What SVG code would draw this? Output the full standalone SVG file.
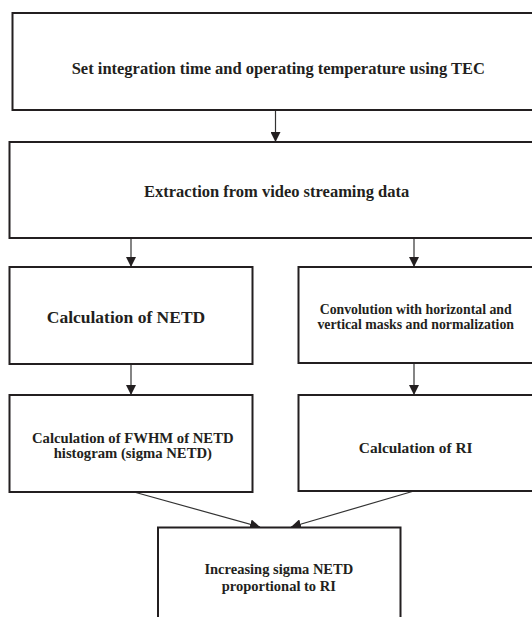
<svg xmlns="http://www.w3.org/2000/svg" width="532" height="617" viewBox="0 0 532 617">
<defs>
<style>
.box{fill:#fff;stroke:#231f20;stroke-width:2}
.t{font-family:"Liberation Serif","Times New Roman",serif;font-weight:bold;fill:#231f20;text-anchor:middle}
.big{font-size:16.5px}
.c{stroke:#333;stroke-width:1.2;fill:none;marker-end:url(#ah)}
</style>
<marker id="ah" viewBox="0 0 10 10" refX="10" refY="5" markerWidth="10" markerHeight="10" markerUnits="userSpaceOnUse" orient="auto">
<path d="M0,0 L10,5 L0,10 z" fill="#231f20"/>
</marker>
</defs>
<rect width="532" height="617" fill="#fff"/>
<g id="connectors">
<line class="c" x1="275.5" y1="110" x2="275.5" y2="142"/>
<line class="c" x1="131" y1="238" x2="131" y2="267"/>
<line class="c" x1="414" y1="238" x2="414" y2="267"/>
<line class="c" x1="131" y1="364" x2="131" y2="395"/>
<line class="c" x1="414" y1="363" x2="414" y2="395"/>
<line class="c" x1="134" y1="492" x2="260" y2="527"/>
<line class="c" x1="414" y1="491" x2="291" y2="527"/>
</g>
<g id="n1">
<rect class="box" x="12.5" y="13" width="540" height="97"/>
<text class="t big" x="278.3" y="74">Set integration time and operating temperature using TEC</text>
</g>
<g id="n2">
<rect class="box" x="9.5" y="142" width="540" height="96"/>
<text class="t big" x="276.6" y="196.5">Extraction from video streaming data</text>
</g>
<g id="n3">
<rect class="box" x="9.5" y="267" width="243" height="97"/>
<text class="t" font-size="17.5" x="126" y="323">Calculation of NETD</text>
</g>
<g id="n4">
<rect class="box" x="298.5" y="267" width="240" height="96"/>
<text class="t" font-size="13.8" x="415.7" y="314.3">Convolution with horizontal and</text>
<text class="t" font-size="13.8" x="415.7" y="329.2">vertical masks and normalization</text>
</g>
<g id="n5">
<rect class="box" x="9.5" y="395" width="243" height="97"/>
<text class="t" font-size="14.7" x="132.8" y="442.5">Calculation of FWHM of NETD</text>
<text class="t" font-size="14.7" x="132.8" y="457.8">histogram (sigma NETD)</text>
</g>
<g id="n6">
<rect class="box" x="298.5" y="395" width="240" height="96"/>
<text class="t" font-size="15.4" x="415.7" y="453">Calculation of RI</text>
</g>
<g id="n7">
<rect class="box" x="158" y="527.5" width="242.5" height="100"/>
<text class="t" font-size="14.5" x="278.8" y="574">Increasing sigma NETD</text>
<text class="t" font-size="14.5" x="278.8" y="591">proportional to RI</text>
</g>
</svg>
